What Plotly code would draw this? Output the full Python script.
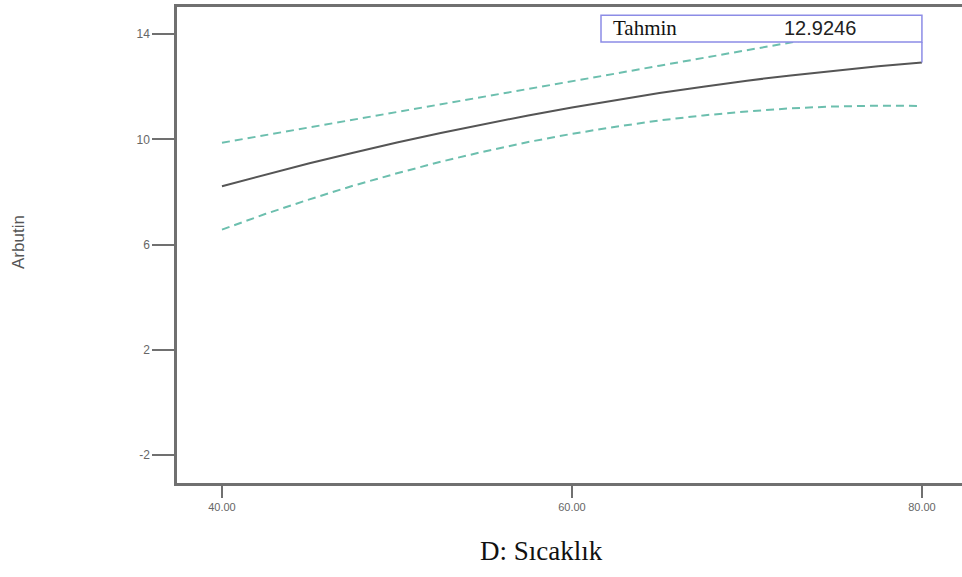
import plotly.graph_objects as go

# Data
temperature = [40, 42.5, 45, 47.5, 50, 52.5, 55, 57.5, 60, 62.5, 65, 67.5, 70, 72.5, 75, 77.5, 80]
prediction = [8.22, 8.66, 9.09, 9.49, 9.88, 10.24, 10.58, 10.91, 11.21, 11.49, 11.76, 12.00, 12.23, 12.43, 12.61, 12.78, 12.9246]
upper_ci = [9.87, 10.16, 10.45, 10.75, 11.04, 11.33, 11.62, 11.92, 12.21, 12.50, 12.80, 13.09, 13.39, 13.68, 13.98, 14.27, 14.57]
lower_ci = [6.57, 7.17, 7.72, 8.24, 8.71, 9.15, 9.54, 9.90, 10.21, 10.48, 10.72, 10.91, 11.06, 11.18, 11.25, 11.28, 11.27]
x_ticks = [40, 60, 80]
x_tick_labels = ["40.00", "60.00", "80.00"]
y_ticks = [-2, 2, 6, 10, 14]
y_tick_labels = ["-2", "2", "6", "10", "14"]
pred_x = 80
pred_value = 12.9246

ci_color = "#6cbfae"
axis_color = "#707070"

fig = go.Figure()
fig.add_trace(go.Scatter(x=temperature, y=upper_ci, mode="lines",
                         line=dict(color=ci_color, width=2, dash="8px,5px"), hoverinfo="skip"))
fig.add_trace(go.Scatter(x=temperature, y=lower_ci, mode="lines",
                         line=dict(color=ci_color, width=2, dash="8px,5px"), hoverinfo="skip"))
fig.add_trace(go.Scatter(x=temperature, y=prediction, mode="lines",
                         line=dict(color="#555555", width=2)))

# prediction box
fig.add_shape(type="rect", xref="x", yref="y", x0=61.66, x1=pred_x, y0=13.70, y1=14.72,
              fillcolor="white", line=dict(color="#8c8ce6", width=1.5), layer="above")
fig.add_shape(type="line", xref="x", yref="y", x0=pred_x, x1=pred_x, y0=13.70, y1=pred_value,
              line=dict(color="#8c8ce6", width=1.5), layer="above")
fig.add_annotation(x=62.25, y=14.22, xref="x", yref="y", text="Tahmin", showarrow=False,
                   xanchor="left", yanchor="middle",
                   font=dict(family="Liberation Serif", size=21, color="#111111"))
fig.add_annotation(x=74.17, y=14.22, xref="x", yref="y", text=f"{pred_value:.4f}", showarrow=False,
                   xanchor="center", yanchor="middle",
                   font=dict(family="Liberation Sans", size=20, color="#222222"))

# axis titles
fig.add_annotation(x=(541 - 177) / (962 - 177), y=-(551 - 483) / 476, xref="paper", yref="paper",
                   text="D: Sıcaklık", showarrow=False, xanchor="center", yanchor="middle",
                   font=dict(family="Liberation Serif", size=27, color="#111111"))
fig.add_annotation(x=-(177 - 18) / (962 - 177), y=(483 - 242) / 476, xref="paper", yref="paper",
                   text="Arbutin", textangle=-90,
                   showarrow=False, xanchor="center", yanchor="middle",
                   font=dict(family="Liberation Sans", size=17, color="#555555"))

fig.update_layout(
    width=962, height=577,
    margin=dict(l=177, r=0, t=7, b=94),
    plot_bgcolor="white", paper_bgcolor="white",
    showlegend=False,
    xaxis=dict(range=[37.43, 82.29], tickvals=x_ticks, ticktext=x_tick_labels,
               showline=True, linecolor=axis_color, linewidth=2.5, mirror=True,
               ticks="outside", ticklen=12, tickwidth=2, tickcolor=axis_color,
               showgrid=False, zeroline=False,
               tickfont=dict(family="Liberation Sans", size=11, color="#666666")),
    yaxis=dict(range=[-3.06, 15.03], tickvals=y_ticks, ticktext=y_tick_labels,
               showline=True, linecolor=axis_color, linewidth=2.5, mirror=False,
               ticks="outside", ticklen=22, tickwidth=2, tickcolor=axis_color,
               showgrid=False, zeroline=False,
               tickfont=dict(family="Liberation Sans", size=12, color="#666666")),
)

fig.write_html("out.html", config={"displayModeBar": False},
               post_script="document.body.style.margin='0';document.body.style.overflow='hidden';")
